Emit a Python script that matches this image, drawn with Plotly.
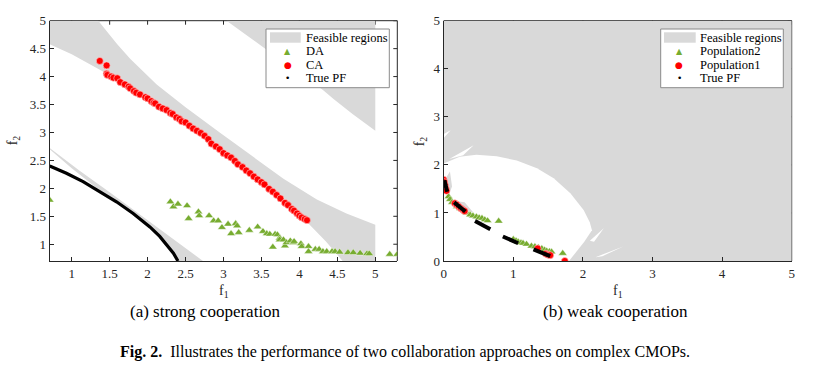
import plotly.graph_objects as go

W, H = 838, 366
SERIF = "Liberation Serif, Times New Roman, serif"
GREY = "#d9d9d9"
GREEN = "#77AC30"
RED = "#ff0000"
AXC = "#262626"

# ---------------- (a) strong cooperation ----------------
ca_f1 = [1.37, 1.46, 1.46, 1.47, 1.52, 1.55, 1.60, 1.64, 1.70, 1.75, 1.77, 1.82, 1.85, 1.90, 1.97,
         2.00, 2.05, 2.08, 2.10, 2.15, 2.20, 2.25, 2.30, 2.33, 2.38, 2.42, 2.45, 2.50, 2.55, 2.60,
         2.65, 2.70, 2.75, 2.80, 2.84, 2.90, 2.95, 3.00, 3.05, 3.10, 3.15, 3.19, 3.25, 3.30, 3.35,
         3.40, 3.45, 3.50, 3.54, 3.60, 3.65, 3.70, 3.75, 3.81, 3.85, 3.90, 3.93, 3.97, 4.00, 4.03,
         4.07, 4.10]
ca_f2 = [4.28, 4.20, 4.05, 4.03, 4.00, 3.98, 3.97, 3.90, 3.86, 3.82, 3.79, 3.74, 3.71, 3.68, 3.63,
         3.61, 3.56, 3.53, 3.52, 3.46, 3.43, 3.40, 3.35, 3.33, 3.27, 3.24, 3.20, 3.18, 3.12, 3.07,
         3.03, 2.99, 2.94, 2.88, 2.80, 2.75, 2.70, 2.63, 2.59, 2.55, 2.49, 2.43, 2.38, 2.32, 2.27,
         2.21, 2.16, 2.11, 2.07, 1.99, 1.94, 1.88, 1.82, 1.74, 1.70, 1.63, 1.60, 1.55, 1.51, 1.48,
         1.45, 1.43]

da_f1 = [0.71, 2.30, 2.34, 2.40, 2.52, 2.54, 2.67, 2.68, 2.81, 2.87, 2.93, 2.98, 3.06, 3.10, 3.16,
         3.18, 3.20, 3.34, 3.45, 3.52, 3.57, 3.61, 3.65, 3.68, 3.71, 3.74, 3.74, 3.79, 3.81, 3.83,
         3.88, 3.92, 3.93, 4.02, 4.03, 4.12, 4.12, 4.21, 4.26, 4.31, 4.36, 4.43, 4.47, 4.53, 4.64,
         4.71, 4.80, 4.89, 4.92, 5.19, 5.29]
da_f2 = [1.79, 1.76, 1.67, 1.72, 1.69, 1.46, 1.58, 1.51, 1.51, 1.42, 1.42, 1.30, 1.36, 1.19, 1.37,
         1.33, 1.21, 1.25, 1.31, 1.23, 1.19, 1.18, 0.95, 1.18, 1.17, 1.11, 1.08, 1.08, 0.97, 1.03,
         1.06, 1.03, 1.05, 1.01, 0.96, 0.96, 0.87, 0.91, 0.91, 0.87, 0.87, 0.87, 0.87, 0.86, 0.85,
         0.85, 0.84, 0.83, 0.83, 0.82, 0.82]

pf_a_f1 = [0.71, 0.93, 1.15, 1.37, 1.59, 1.81, 2.03, 2.16, 2.25, 2.34, 2.40]
pf_a_f2 = [2.40, 2.27, 2.12, 1.94, 1.76, 1.55, 1.31, 1.14, 0.99, 0.84, 0.70]

# feasible regions (boundaries)
band1_f1 = [0.71, 1.35, 1.60, 1.77, 2.12, 2.50, 2.95, 3.38, 3.79, 4.23, 4.62, 5.00, 5.00, 4.57,
            4.35, 4.10, 3.90, 3.50, 3.00, 2.50, 2.00, 1.40, 1.00, 0.71]
band1_f2 = [5.00, 5.00, 4.58, 4.32, 3.86, 3.45, 3.00, 2.58, 2.17, 1.80, 1.55, 1.35, 0.70, 0.70,
            1.05, 1.40, 1.62, 2.08, 2.62, 3.15, 3.58, 4.10, 4.40, 4.58]
band2_f1 = [3.04, 5.00, 5.00, 4.70, 4.45, 4.31, 4.00, 3.60]
band2_f2 = [5.00, 5.00, 3.03, 3.33, 3.60, 3.76, 4.07, 4.45]
band3_f1 = [0.71, 1.10, 1.50, 1.90, 2.30, 2.73, 2.40, 2.34, 2.25, 2.16, 2.03, 1.81, 1.59, 1.40, 1.00, 0.71]
band3_f2 = [2.72, 2.32, 1.93, 1.53, 1.12, 0.70, 0.70, 0.84, 0.99, 1.14, 1.31, 1.55, 1.76, 1.93, 2.36, 2.70]

xt_a = [1, 1.5, 2, 2.5, 3, 3.5, 4, 4.5, 5]
xt_a_lbl = ["1", "1.5", "2", "2.5", "3", "3.5", "4", "4.5", "5"]
yt_a = [1, 1.5, 2, 2.5, 3, 3.5, 4, 4.5, 5]
yt_a_lbl = ["1", "1.5", "2", "2.5", "3", "3.5", "4", "4.5", "5"]
xr_a = [0.71, 5.29]
yr_a = [0.70, 5.0]

# ---------------- (b) weak cooperation ----------------
feas_b_f1 = [0, 5, 5, 0]
feas_b_f2 = [0, 0, 5, 5]
infeas_b_f1 = [0, 0, 0.23, 0.47, 0.76, 1.05, 1.34, 1.58, 1.82, 2.01, 2.10, 2.13, 2.02, 1.88, 1.80]
infeas_b_f2 = [0, 2.03, 2.17, 2.21, 2.18, 2.09, 1.93, 1.72, 1.41, 1.06, 0.80, 0.64, 0.40, 0.15, 0]
spikes_b_f1 = [0, 0.10, 0, None, 0.08, 0.43, 0.28, None, 2.10, 2.30, 2.16, None, 2.18, 2.58, 2.28]
spikes_b_f2 = [2.56, 2.72, 2.64, None, 2.12, 2.41, 2.20, None, 0.42, 0.68, 0.40, None, 0.08, 0.30, 0.10]
slivers_b_f1 = [0.04, 0.09, 0.12, 0.08, None, 0.17, 0.30, 0.42, 0.33]
slivers_b_f2 = [1.75, 1.86, 1.55, 1.40, None, 1.25, 1.22, 1.02, 1.02]

pop2_f1 = [0.07, 0.09, 0.12, 0.19, 0.24, 0.28, 0.33, 0.38, 0.42, 0.47, 0.51, 0.55, 0.59, 0.63, 0.79,
           1.00, 1.04, 1.07, 1.11, 1.14, 1.19, 1.26, 1.31, 1.36, 1.41, 1.45, 1.48, 1.52, 1.55, 1.71]
pop2_f2 = [1.34, 1.28, 1.22, 1.13, 1.09, 1.06, 1.00, 0.96, 0.94, 0.92, 0.90, 0.89, 0.86, 0.84, 0.83,
           0.45, 0.42, 0.40, 0.38, 0.37, 0.35, 0.31, 0.30, 0.28, 0.26, 0.23, 0.21, 0.20, 0.19, 0.16]
pop1_f1 = [0.00, 0.01, 0.02, 0.03, 0.04, 0.16, 0.19, 0.22, 0.25, 0.28, 0.30, 1.35, 1.47, 1.50, 1.53, 1.74]
pop1_f2 = [1.69, 1.64, 1.57, 1.51, 1.46, 1.20, 1.17, 1.13, 1.09, 1.06, 1.04, 0.26, 0.15, 0.13, 0.12, 0.00]
pf_b_f1 = [0.01, 0.03, 0.05, None, 0.15, 0.23, 0.31, None, 0.45, 0.56, 0.67, None, 0.85, 0.96, 1.07,
           None, 1.29, 1.41, 1.53]
pf_b_f2 = [1.68, 1.56, 1.44, None, 1.22, 1.12, 1.03, None, 0.83, 0.74, 0.66, None, 0.51, 0.44, 0.37,
           None, 0.24, 0.17, 0.10]

xt_b = [0, 1, 2, 3, 4, 5]
xt_b_lbl = ["0", "1", "2", "3", "4", "5"]
yt_b = [0, 1, 2, 3, 4, 5]
yt_b_lbl = ["0", "1", "2", "3", "4", "5"]
xr_b = [0, 5]
yr_b = [0, 5]

legend_a = ["Feasible regions", "DA", "CA", "True PF"]
legend_b = ["Feasible regions", "Population2", "Population1", "True PF"]
captions = ["(a) strong cooperation", "(b) weak cooperation"]
fig_caption = "<b>Fig. 2.</b>  Illustrates the performance of two collaboration approaches on complex CMOPs."

# ---------------- layout geometry (page pixels) ----------------
AX_A = (49.7, 397.3)
AX_B = (443.7, 791.7)
AX_Y = (20.7, 261.0)


def px(x):
    return x / W


def py(y):
    return 1 - y / H


fig = go.Figure()


def fill(xs, ys, color, xa, ya):
    fig.add_trace(go.Scatter(x=xs, y=ys, fill="toself", fillcolor=color, mode="lines",
                             line=dict(width=0, color=color), hoverinfo="skip",
                             showlegend=False, xaxis=xa, yaxis=ya))


# (a)
fill(band1_f1, band1_f2, GREY, "x", "y")
fill(band2_f1, band2_f2, GREY, "x", "y")
fill(band3_f1, band3_f2, GREY, "x", "y")
fig.add_trace(go.Scatter(x=pf_a_f1, y=pf_a_f2, mode="lines", line=dict(color="black", width=3.2),
                         showlegend=False, xaxis="x", yaxis="y"))
fig.add_trace(go.Scatter(x=da_f1, y=da_f2, mode="markers",
                         marker=dict(symbol="triangle-up", size=7.5, color=GREEN,
                                     line=dict(color="rgba(255,255,255,0.7)", width=0.6)),
                         showlegend=False, xaxis="x", yaxis="y"))
fig.add_trace(go.Scatter(x=ca_f1, y=ca_f2, mode="markers",
                         marker=dict(symbol="circle", size=7, color=RED,
                                     line=dict(color="rgba(255,200,200,0.9)", width=0.7)),
                         showlegend=False, xaxis="x", yaxis="y"))

# (b)
fill(feas_b_f1, feas_b_f2, GREY, "x2", "y2")
fill(infeas_b_f1, infeas_b_f2, "white", "x2", "y2")
fill(spikes_b_f1, spikes_b_f2, "white", "x2", "y2")
fill(slivers_b_f1, slivers_b_f2, GREY, "x2", "y2")
fig.add_trace(go.Scatter(x=pop2_f1, y=pop2_f2, mode="markers",
                         marker=dict(symbol="triangle-up", size=7.5, color=GREEN,
                                     line=dict(color="rgba(255,255,255,0.7)", width=0.6)),
                         showlegend=False, xaxis="x2", yaxis="y2"))
fig.add_trace(go.Scatter(x=pop1_f1, y=pop1_f2, mode="markers",
                         marker=dict(symbol="circle", size=7, color=RED,
                                     line=dict(color="rgba(255,200,200,0.9)", width=0.7)),
                         showlegend=False, xaxis="x2", yaxis="y2"))
fig.add_trace(go.Scatter(x=pf_b_f1, y=pf_b_f2, mode="lines", line=dict(color="black", width=4),
                         connectgaps=False, showlegend=False, xaxis="x2", yaxis="y2"))

tickfont = dict(family=SERIF, size=13, color=AXC)


def axis(dom, rng, tv, tt, anchor):
    return dict(domain=dom, range=rng, tickvals=tv, ticktext=tt, anchor=anchor,
                showline=True, linecolor=AXC, linewidth=1, ticks="inside", ticklen=4,
                tickwidth=1, tickcolor=AXC, tickfont=tickfont, showgrid=False,
                zeroline=False, automargin=False, fixedrange=True)


ydom = [py(AX_Y[1]), py(AX_Y[0])]
fig.update_layout(
    width=W, height=H, autosize=False,
    margin=dict(l=0, r=0, t=0, b=0),
    paper_bgcolor="white", plot_bgcolor="white",
    showlegend=False,
    xaxis=axis([px(AX_A[0]), px(AX_A[1])], xr_a, xt_a, xt_a_lbl, "y"),
    yaxis=axis(ydom, yr_a, yt_a, yt_a_lbl, "x"),
    xaxis2=axis([px(AX_B[0]), px(AX_B[1])], xr_b, xt_b, xt_b_lbl, "y2"),
    yaxis2=axis(ydom, yr_b, yt_b, yt_b_lbl, "x2"),
)

shapes = []
annotations = []
# top / right box lines and ticks, drawn beneath the regions
hpx = AX_Y[1] - AX_Y[0]
for xa, ya, xts, yts, wpx in (("x", "y", xt_a, yt_a, AX_A[1] - AX_A[0]),
                               ("x2", "y2", xt_b, yt_b, AX_B[1] - AX_B[0])):
    shapes.append(dict(type="line", xref=xa + " domain", yref=ya + " domain", x0=0, x1=1, y0=1, y1=1,
                       line=dict(color=AXC, width=1), layer="below"))
    shapes.append(dict(type="line", xref=xa + " domain", yref=ya + " domain", x0=1, x1=1, y0=0, y1=1,
                       line=dict(color=AXC, width=1), layer="below"))
    for v in xts:
        shapes.append(dict(type="line", xref=xa, yref=ya + " domain", x0=v, x1=v, y0=1, y1=1 - 4 / hpx,
                           line=dict(color=AXC, width=1), layer="below"))
    for v in yts:
        shapes.append(dict(type="line", xref=xa + " domain", yref=ya, x0=1, x1=1 - 4 / wpx, y0=v, y1=v,
                           line=dict(color=AXC, width=1), layer="below"))

# axis titles
for (x0, x1), ylab_x in ((AX_A, 13.5), (AX_B, 420.5)):
    annotations.append(dict(text="f<sub>1</sub>", xref="paper", yref="paper", x=px((x0 + x1) / 2),
                            y=py(291), showarrow=False, xanchor="center", yanchor="middle",
                            font=dict(family=SERIF, size=14, color=AXC)))
    annotations.append(dict(text="f<sub>2</sub>", xref="paper", yref="paper", x=px(ylab_x),
                            y=py((AX_Y[0] + AX_Y[1]) / 2), showarrow=False, textangle=-90,
                            xanchor="center", yanchor="middle",
                            font=dict(family=SERIF, size=14, color=AXC)))

# legends (box, swatch, markers, text)
rows_y = [38.3, 51.2, 65.2, 78.3]
syms = [None, ("▲", GREEN, 8), ("●", RED, 9), ("•", "black", 9)]
for labels, (bx0, bx1), (sx0, sx1), sym_x, txt_x in (
        (legend_a, (266, 389.3), (270, 300.7), 287.7, 304.3),
        (legend_b, (660.7, 783.3), (664, 695.7), 679.3, 698.3)):
    shapes.append(dict(type="rect", xref="paper", yref="paper", x0=px(bx0), x1=px(bx1),
                       y0=py(87.7), y1=py(29), fillcolor="white",
                       line=dict(color="#8a8a8a", width=1), layer="above"))
    shapes.append(dict(type="rect", xref="paper", yref="paper", x0=px(sx0), x1=px(sx1),
                       y0=py(42.7), y1=py(32.3), fillcolor=GREY, line=dict(width=0), layer="above"))
    for i, lab in enumerate(labels):
        annotations.append(dict(text=lab, xref="paper", yref="paper", x=px(txt_x), y=py(rows_y[i]),
                                showarrow=False, xanchor="left", yanchor="middle",
                                font=dict(family=SERIF, size=12.5, color="black")))
        if syms[i]:
            s, c, z = syms[i]
            annotations.append(dict(text=s, xref="paper", yref="paper", x=px(sym_x), y=py(rows_y[i]),
                                    showarrow=False, xanchor="center", yanchor="middle",
                                    font=dict(family="DejaVu Sans", size=z, color=c)))

# sub-captions and figure caption
annotations.append(dict(text=captions[0], xref="paper", yref="paper", x=px(205.5), y=py(311.5),
                        showarrow=False, xanchor="center", yanchor="middle",
                        font=dict(family=SERIF, size=17, color="black")))
annotations.append(dict(text=captions[1], xref="paper", yref="paper", x=px(615), y=py(311.5),
                        showarrow=False, xanchor="center", yanchor="middle",
                        font=dict(family=SERIF, size=17, color="black")))
annotations.append(dict(text=fig_caption, xref="paper", yref="paper", x=px(405), y=py(351.5),
                        showarrow=False, xanchor="center", yanchor="middle",
                        font=dict(family=SERIF, size=16, color="black")))

fig.update_layout(shapes=shapes, annotations=annotations)
fig.write_html("out.html", config={"displayModeBar": False},
               post_script="document.body.style.margin='0';document.body.style.overflow='hidden';")
